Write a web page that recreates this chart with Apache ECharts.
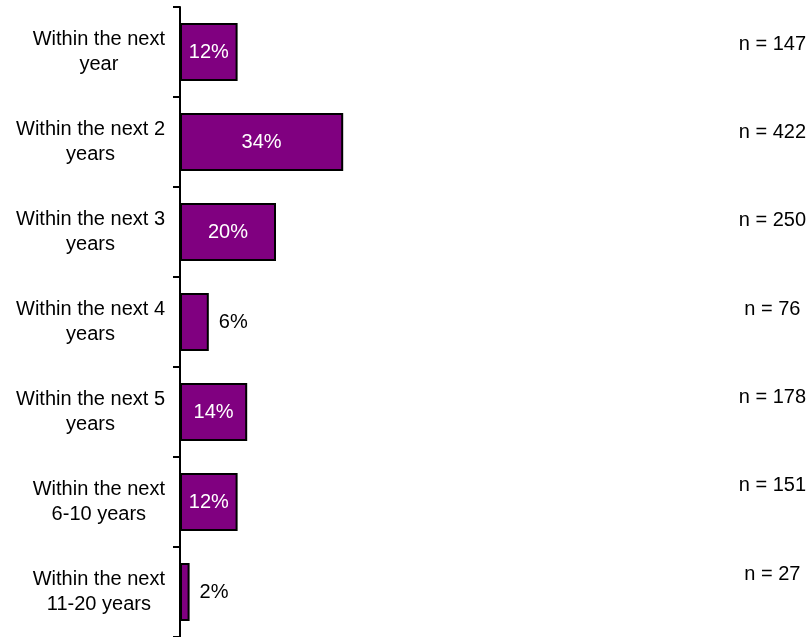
<!DOCTYPE html>
<html>
<head>
<meta charset="utf-8">
<title>Timeframe</title>
<script src="https://cdn.jsdelivr.net/npm/echarts@6/dist/echarts.min.js"></script>
<style>
  html, body { margin: 0; padding: 0; background: #ffffff; }
  #chart { width: 809px; height: 637px; }
</style>
</head>
<body>
<div id="chart"></div>
<script>
// Time horizons (two-line labels)
const categories = [
  'Within the next\nyear',
  'Within the next 2\nyears',
  'Within the next 3\nyears',
  'Within the next 4\nyears',
  'Within the next 5\nyears',
  'Within the next\n6-10 years',
  'Within the next\n11-20 years'
];
// Share of respondents, percent
const shares = [12, 34, 20, 6, 14, 12, 2];
// Respondent counts shown at the right
const counts = [147, 422, 250, 76, 178, 151, 27];

const FONT = '"Liberation Sans", Arial, Helvetica, sans-serif';
const PURPLE = '#800080';

const barData = shares.map(function (v) {
  const small = v < 10;
  return {
    value: v,
    label: small
      ? { position: 'right', distance: 10, color: '#000000' }
      : { position: 'inside', color: '#ffffff' }
  };
});

const chart = echarts.init(document.getElementById('chart'), null, { renderer: 'canvas' });

chart.setOption({
  animation: false,
  backgroundColor: '#ffffff',
  grid: [
    { left: 180, top: 7, width: 480, height: 630 },
    { left: 180, top: -0.7, width: 480, height: 619 }
  ],
  xAxis: [
    { type: 'value', gridIndex: 0, min: 0, max: 100, show: false },
    { type: 'value', gridIndex: 1, min: 0, max: 100, show: false }
  ],
  yAxis: [
    {
      type: 'category',
      gridIndex: 0,
      inverse: true,
      data: categories,
      axisLine: { show: true, lineStyle: { color: '#000000', width: 2 } },
      axisTick: { show: true, length: 7, lineStyle: { color: '#000000', width: 2 } },
      splitLine: { show: false },
      axisLabel: {
        margin: 15,
        align: 'right',
        formatter: function (v) {
          return v.split('\n').map(function (l) { return '{c|' + l + '}'; }).join('\n');
        },
        rich: {
          c: { align: 'center', fontFamily: FONT, fontSize: 20, lineHeight: 25, color: '#000000' }
        }
      }
    },
    {
      type: 'category',
      gridIndex: 1,
      inverse: true,
      position: 'right',
      data: counts.map(function (n) { return 'n = ' + n; }),
      axisLine: { show: false },
      axisTick: { show: false },
      splitLine: { show: false },
      axisLabel: {
        margin: 112.5,
        align: 'center',
        fontFamily: FONT,
        fontSize: 20,
        color: '#000000'
      }
    }
  ],
  series: [
    {
      type: 'bar',
      xAxisIndex: 0,
      yAxisIndex: 0,
      data: barData,
      barWidth: 58,
      itemStyle: { color: PURPLE, borderColor: '#000000', borderWidth: 2 },
      label: {
        show: true,
        fontFamily: FONT,
        fontSize: 20,
        formatter: '{c}%'
      }
    }
  ]
});
</script>
</body>
</html>
